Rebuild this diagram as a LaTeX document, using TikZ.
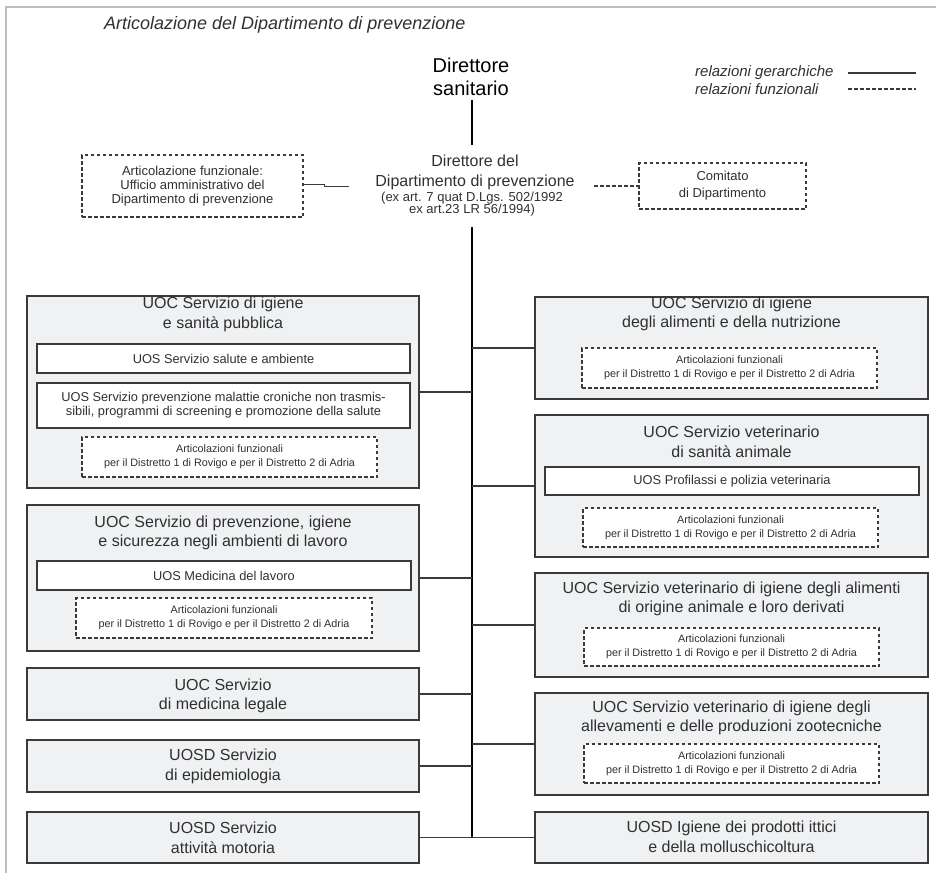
\documentclass[tikz,border=0pt]{standalone}
\usepackage{fontspec}
\setmainfont{Liberation Sans}
\usetikzlibrary{calc}
\definecolor{ink}{HTML}{303030}
\definecolor{boxfill}{HTML}{EFF1F3}
\definecolor{boxline}{HTML}{3A3A3A}
\definecolor{framegray}{HTML}{BDBDBD}
\newcommand\distretti{Articolazioni funzionali\\per il Distretto 1 di Rovigo e per il Distretto 2 di Adria}
\tikzset{
  unit/.style={draw=boxline, line width=1.3pt, fill=boxfill, inner sep=0pt},
  subunit/.style={draw=boxline, line width=1.2pt, fill=white, inner sep=0pt, text=ink, align=center,
    font=\fontsize{12.8}{14}\selectfont},
  funcbox/.style={draw=boxline, line width=1.1pt, dash pattern=on 3.5pt off 2.5pt, fill=white,
    inner sep=0pt, text=ink, align=center, font=\fontsize{10.8}{14}\selectfont},
  unittitle/.style={text=ink, align=center, font=\fontsize{16}{19.5}\selectfont, inner sep=0pt},
  branch/.style={draw=boxline, line width=1.2pt},
  trunk/.style={draw=black, line width=2pt},
  funcline/.style={draw=boxline, line width=1.1pt, dash pattern=on 3.5pt off 2.5pt},
}
\begin{document}
\begin{tikzpicture}[x=1pt, y=-1pt]
\useasboundingbox (0,0) rectangle (936,873);
% page frame
\draw[framegray, line width=1.5pt] (6,873) -- (6,7) -- (936,7);

% heading and legend
\node[anchor=west, text=ink, inner sep=0pt, font=\itshape\fontsize{18}{20}\selectfont] (title) at (104,25)
  {Articolazione del Dipartimento di prevenzione};
\node[anchor=west, text=ink, inner sep=0pt, font=\itshape\fontsize{15}{16}\selectfont] (leghier) at (695,73)
  {relazioni gerarchiche};
\node[anchor=west, text=ink, inner sep=0pt, font=\itshape\fontsize{15}{16}\selectfont] (legfunc) at (695,89)
  {relazioni funzionali};
\coordinate (lh1) at (848,73); \coordinate (lh2) at (916,73);
\coordinate (lf1) at (848,89); \coordinate (lf2) at (916,89);
\draw[branch] (lh1) -- (lh2);
\draw[funcline] (lf1) -- (lf2);

% top of the hierarchy
\node[inner sep=0pt, align=center, font=\fontsize{20}{23}\selectfont] (dirsan) at (471,76.5)
  {Direttore\\sanitario};
\node[inner sep=0pt, align=center, text=ink, font=\fontsize{16}{20}\selectfont] (dipdir) at (475,172)
  {Direttore del\\Dipartimento di prevenzione};
\node[inner sep=0pt, align=center, text=ink, font=\fontsize{13}{12.5}\selectfont] (dipref) at (472,204)
  {(ex art. 7 quat D.Lgs. 502/1992\\ex art.23 LR 56/1994)};

\node[funcbox, font=\fontsize{13}{14}\selectfont, minimum width=221pt, minimum height=62pt] (artfun) at (192.5,186)
  {Articolazione funzionale:\\Ufficio amministrativo del\\Dipartimento di prevenzione};
\node[funcbox, font=\fontsize{13}{17}\selectfont, minimum width=167pt, minimum height=46pt] (comitato) at (722.5,186)
  {Comitato\\di Dipartimento};

\coordinate (t0) at (472,100);
\coordinate (t1) at (472,145);
\coordinate (t2) at (472,227);
\coordinate (t3) at (472,837);
\draw[trunk] (t0) -- (t1);
\draw[trunk] (t2) -- (t3);

\coordinate (j1) at (324,184); \coordinate (j2) at (324,186); \coordinate (j3) at (349,186);
\draw[branch, line width=1pt] (artfun.east |- j1) -- (j1) -- (j2) -- (j3);
\coordinate (c0) at (594,186);
\draw[funcline] (c0) -- (comitato.west);

% left column
\node[unit, minimum width=392pt, minimum height=192pt] (L1) at (223,392) {};
\node[unittitle] (L1t) at (223,314.5) {UOC Servizio di igiene\\e sanità pubblica};
\node[subunit, minimum width=373pt, minimum height=29pt] (L1a) at (223.5,358.5) {UOS Servizio salute e ambiente};
\node[subunit, minimum width=373pt, minimum height=45pt] (L1b) at (223.5,405.5)
  {UOS Servizio prevenzione malattie croniche non trasmis-\\sibili, programmi di screening e promozione della salute};
\node[funcbox, minimum width=295pt, minimum height=40pt] (L1f) at (229.5,457) {\distretti};

\node[unit, minimum width=392pt, minimum height=146pt] (L2) at (223,578) {};
\node[unittitle] (L2t) at (223,533) {UOC Servizio di prevenzione, igiene\\e sicurezza negli ambienti di lavoro};
\node[subunit, minimum width=374pt, minimum height=29pt] (L2a) at (224,575.5) {UOS Medicina del lavoro};
\node[funcbox, minimum width=296pt, minimum height=40pt] (L2f) at (224,618) {\distretti};

\node[unit, minimum width=392pt, minimum height=52pt] (L3) at (223,694) {};
\node[unittitle] (L3t) at (223,696) {UOC Servizio\\di medicina legale};

\node[unit, minimum width=392pt, minimum height=52pt] (L4) at (223,766) {};
\node[unittitle] (L4t) at (223,766.5) {UOSD Servizio\\di epidemiologia};

\node[unit, minimum width=392pt, minimum height=51pt] (L5) at (223,837.5) {};
\node[unittitle] (L5t) at (223,838) {UOSD Servizio\\attività motoria};

% right column
\node[unit, minimum width=393pt, minimum height=102pt] (R1) at (731.5,348) {};
\node[unittitle] (R1t) at (731.5,314) {UOC Servizio di igiene\\degli alimenti e della nutrizione};
\node[funcbox, minimum width=295pt, minimum height=40pt] (R1f) at (729.5,368) {\distretti};

\node[unit, minimum width=393pt, minimum height=142pt] (R2) at (731.5,486) {};
\node[unittitle] (R2t) at (731.5,442) {UOC Servizio veterinario\\di sanità animale};
\node[subunit, minimum width=374pt, minimum height=28pt] (R2a) at (732,481) {UOS Profilassi e polizia veterinaria};
\node[funcbox, minimum width=295pt, minimum height=39pt] (R2f) at (730.5,527.5) {\distretti};

\node[unit, minimum width=393pt, minimum height=104pt] (R3) at (731.5,625) {};
\node[unittitle] (R3t) at (731.5,599) {UOC Servizio veterinario di igiene degli alimenti\\di origine animale e loro derivati};
\node[funcbox, minimum width=295pt, minimum height=38pt] (R3f) at (731.5,647) {\distretti};

\node[unit, minimum width=393pt, minimum height=102pt] (R4) at (731.5,744) {};
\node[unittitle] (R4t) at (731.5,718) {UOC Servizio veterinario di igiene degli\\allevamenti e delle produzioni zootecniche};
\node[funcbox, minimum width=295pt, minimum height=39pt] (R4f) at (731.5,763.5) {\distretti};

\node[unit, minimum width=393pt, minimum height=51pt] (R5) at (731.5,837.5) {};
\node[unittitle] (R5t) at (731.5,837) {UOSD Igiene dei prodotti ittici\\e della molluschicoltura};

% branches from the main line
\foreach \b in {L1,L2,L3,L4,L5} \draw[branch] (\b.east) -- (\b.east -| t3);
\foreach \b in {R1,R2,R3,R4,R5} \draw[branch] (\b.west) -- (\b.west -| t3);
\end{tikzpicture}
\end{document}
